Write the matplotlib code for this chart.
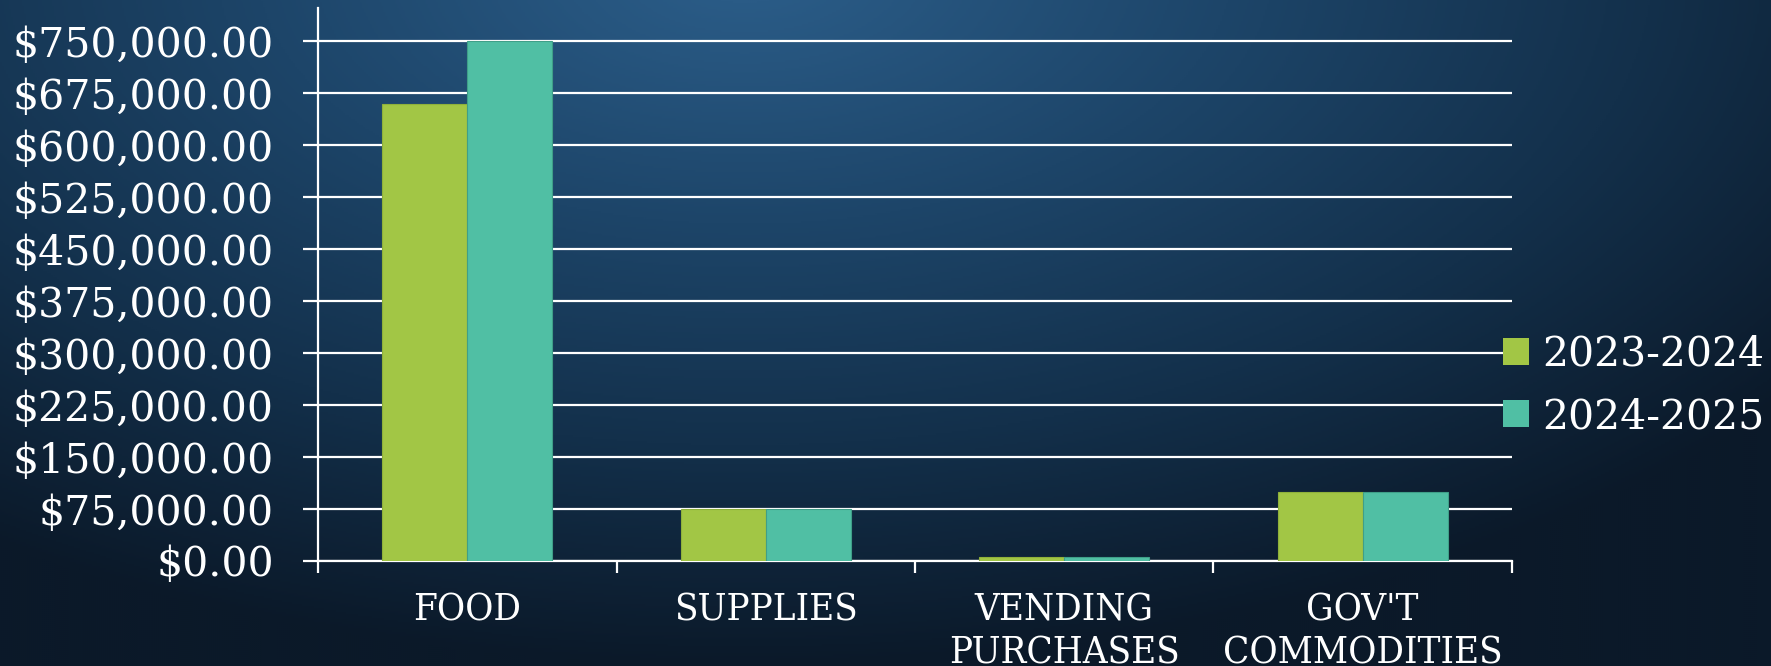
"""Gastos por categoria: 2023-2024 vs 2024-2025 (barras agrupadas)."""

import matplotlib

matplotlib.use("Agg")
import matplotlib.pyplot as plt
import numpy as np
from matplotlib.colors import LinearSegmentedColormap
from matplotlib.patches import Patch
from matplotlib.ticker import FuncFormatter

categories = ["FOOD", "SUPPLIES", "VENDING\nPURCHASES", "GOV'T\nCOMMODITIES"]
series_names = ["2023-2024", "2024-2025"]
values_2324 = [660000, 74500, 6000, 99500]
values_2425 = [750000, 74500, 6000, 99500]
y_ticks = [0, 75000, 150000, 225000, 300000, 375000, 450000, 525000, 600000, 675000, 750000]

GREEN = "#a2c645"
TEAL = "#50bfa4"
WHITE = "#ffffff"


def main() -> None:
    fig = plt.figure(figsize=(17.71, 6.66), dpi=100)

    # fundo: gradiente azul escuro, mais claro no topo ao centro
    bg = fig.add_axes([0, 0, 1, 1], zorder=-10)
    h, w = 333, 886
    yy, xx = np.mgrid[0:h, 0:w]
    xn = xx / w
    yn = yy / h
    d = np.sqrt(((xn - 0.42) / 0.75) ** 2 + ((yn + 0.05) / 1.05) ** 2)
    d = np.clip(d, 0, 1)
    cmap = LinearSegmentedColormap.from_list(
        "bg", ["#2a5b86", "#1d4569", "#13304b", "#0b1929"]
    )
    bg.imshow(d, cmap=cmap, aspect="auto", extent=[0, 1, 0, 1], origin="upper")
    bg.set_axis_off()

    ax = fig.add_axes([0.1796, 0.1577, 0.8537 - 0.1796, 0.988 - 0.1577])
    ax.patch.set_alpha(0)

    x = np.arange(len(categories)) + 0.5
    bw = 0.285
    ax.bar(x - bw / 2, values_2324, width=bw, color=GREEN, edgecolor="#8fb13a", linewidth=0.8, zorder=3)
    ax.bar(x + bw / 2, values_2425, width=bw, color=TEAL, edgecolor="#3f9f88", linewidth=0.8, zorder=3)

    ax.set_xlim(0, len(categories))
    ax.set_ylim(0, 798000)
    ax.set_yticks(y_ticks)
    ax.yaxis.set_major_formatter(FuncFormatter(lambda v, _: f"${v:,.2f}"))
    ax.grid(axis="y", color=WHITE, linewidth=1.6, zorder=1)

    # ticks do eixo de categorias nas fronteiras
    ax.set_xticks(np.arange(len(categories) + 1))
    ax.set_xticklabels([])
    ax.set_xticks(x, minor=True)
    ax.set_xticklabels(categories, minor=True)
    ax.tick_params(axis="x", which="major", length=8.5, width=1.6, color=WHITE, direction="out")
    ax.tick_params(axis="x", which="minor", length=0, pad=23, labelsize=27.5, labelcolor=WHITE)
    for lbl in ax.get_xticklabels(minor=True):
        lbl.set_family("DejaVu Serif")
        lbl.set_stretch("condensed")
        lbl.set_linespacing(1.22)
        lbl.set_va("top")

    ax.tick_params(axis="y", length=10.8, width=1.6, color=WHITE, pad=21, labelsize=29.5, labelcolor=WHITE)
    for lbl in ax.get_yticklabels():
        lbl.set_family("DejaVu Serif")

    for side in ["top", "right"]:
        ax.spines[side].set_visible(False)
    ax.spines["left"].set_color(WHITE)
    ax.spines["left"].set_linewidth(1.6)
    ax.spines["bottom"].set_color(WHITE)
    ax.spines["bottom"].set_linewidth(1.6)

    handles = [Patch(facecolor=GREEN), Patch(facecolor=TEAL)]
    leg = fig.legend(
        handles,
        series_names,
        loc="center left",
        bbox_to_anchor=(0.8487, 0.4204),
        frameon=False,
        prop={"family": "DejaVu Serif", "size": 29.5},
        handlelength=0.63,
        handleheight=0.63,
        handletextpad=0.32,
        labelspacing=0.55,
        borderpad=0,
        borderaxespad=0,
    )
    for t in leg.get_texts():
        t.set_color(WHITE)

    fig.savefig("out.png", dpi=100)


if __name__ == "__main__":
    main()
